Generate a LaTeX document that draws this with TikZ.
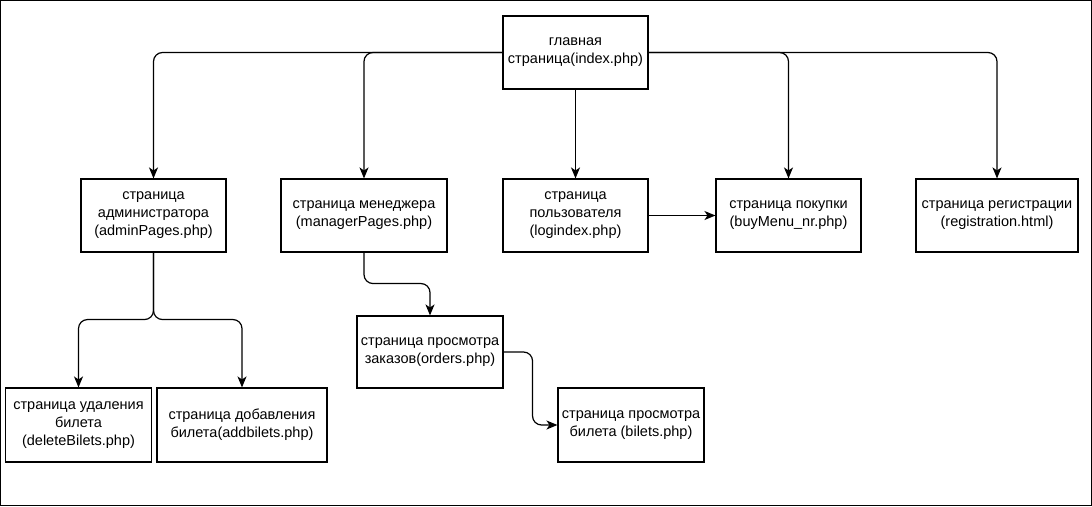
\documentclass[tikz,border=0pt]{standalone}
\usepackage{fontspec}
\setmainfont{Liberation Sans}
\usepackage{tikz}
\usetikzlibrary{positioning, arrows.meta}

\tikzset{
    page/.style={draw=black, line width=1.1pt, align=center, inner sep=0pt, minimum height=73pt, font=\fontsize{14.5}{18}\selectfont},
    link/.style={draw=black, line width=1.2pt, rounded corners=9pt, -{Stealth[length=11pt, width=9pt, inset=3pt]}}
}

\begin{document}
\begin{tikzpicture}[x=1pt, y=-1pt]
            \useasboundingbox (0, 0) rectangle (1092, 506);
            \draw[line width=1pt] (0.5, 0.5) rectangle (1091.5, 505.5);

            \node[page, minimum width=145pt] (main) at (575.5, 52.5) {главная\\страница(index.php)};
            \node[page, minimum width=145pt] (adm) at (153.5, 215.5) {страница\\администратора\\(adminPages.php)};
            \node[page, minimum width=166pt] (mgr) at (364, 215.5) {страница менеджера\\(managerPages.php)};
            \node[page, minimum width=145pt] (usr) at (575.5, 215.5) {страница\\пользователя\\(logindex.php)};
            \node[page, minimum width=145pt] (buy) at (788.5, 215.5) {страница покупки\\(buyMenu\_nr.php)};
            \node[page, minimum width=162pt] (reg) at (997, 215.5) {страница регистрации\\(registration.html)};
            \node[page, minimum width=146pt, minimum height=74pt] (del) at (78.5, 425) {страница удаления\\билета\\(deleteBilets.php)};
            \node[page, minimum width=170pt, minimum height=74pt] (add) at (242, 425) {страница добавления\\билета(addbilets.php)};
            \node[page, minimum width=146pt, minimum height=72pt] (ord) at (430, 352) {страница просмотра\\заказов(orders.php)};
            \node[page, minimum width=146pt, minimum height=74pt] (bil) at (631, 425) {страница просмотра\\билета (bilets.php)};

            \draw[link] (main.west) -| (adm.north);
            \draw[link] (main.west) -| (mgr.north);
            \draw[link] (main.south) -- (usr.north);
            \draw[link] (main.east) -| (buy.north);
            \draw[link] (main.east) -| (reg.north);
            \draw[link] (usr.east) -- (buy.west);
            \draw[link] (adm.south) -- ++(0, 67) -| (del.north);
            \draw[link] (adm.south) -- ++(0, 67) -| (add.north);
            \draw[link] (mgr.south) -- ++(0, 31) -| (ord.north);
            \draw[link] (ord.east) -- ++(29, 0) |- (bil.west);
        \end{tikzpicture}
\end{document}
